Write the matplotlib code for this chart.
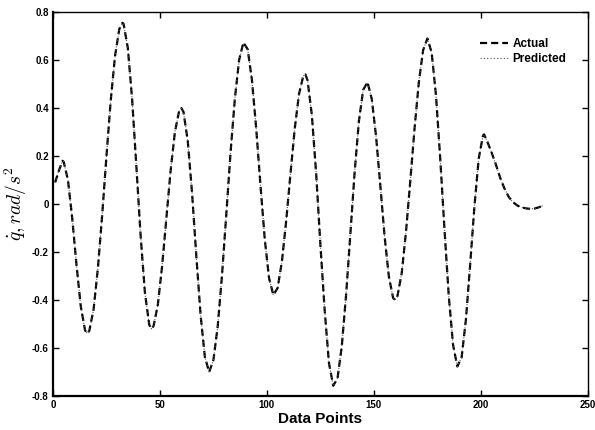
import matplotlib
matplotlib.use("Agg")
import matplotlib.pyplot as plt

plt.rcParams['font.family'] = ['Liberation Sans', 'DejaVu Sans']
plt.rcParams['mathtext.fontset'] = 'cm'

x_points = [
    1, 3, 4.5, 5, 7, 9, 11, 13, 15, 16,
    17, 19, 21, 23, 25, 27, 29, 31, 32.5, 33,
    35, 37, 39, 41, 43, 45, 46, 47, 49, 51,
    53, 55, 57, 59, 60, 61, 63, 65, 67, 69,
    71, 73, 75, 77, 79, 81, 83, 85, 87, 89,
    91, 93, 95, 97, 99, 101, 103, 105, 107, 109,
    111, 113, 115, 117, 118, 119, 121, 123, 125, 127,
    129, 131, 133, 135, 137, 139, 141, 143, 145, 147,
    149, 151, 153, 155, 157, 159, 160, 161, 163, 165,
    167, 169, 171, 173, 175, 177, 179, 181, 183, 185,
    187, 189, 191, 193, 195, 197, 199, 201, 201.5, 203,
    205, 207, 209, 211, 213, 215, 217, 219, 221, 223,
    225, 227, 229,
]
actual = [
    0.09, 0.145, 0.18, 0.176, 0.101, -0.059, -0.253, -0.426, -0.526, -0.54,
    -0.528, -0.438, -0.268, -0.047, 0.199, 0.431, 0.616, 0.729, 0.755, 0.751,
    0.650, 0.436, 0.155, -0.136, -0.371, -0.503, -0.52, -0.509, -0.421, -0.260,
    -0.06, 0.140, 0.300, 0.389, 0.40, 0.384, 0.263, 0.048, -0.216, -0.462,
    -0.637, -0.70, -0.650, -0.510, -0.298, -0.045, 0.214, 0.437, 0.600, 0.673,
    0.645, 0.517, 0.314, 0.077, -0.147, -0.309, -0.379, -0.350, -0.240, -0.071,
    0.125, 0.314, 0.458, 0.534, 0.54, 0.515, 0.371, 0.129, -0.170, -0.444,
    -0.663, -0.757, -0.726, -0.592, -0.379, -0.125, 0.133, 0.346, 0.476, 0.508,
    0.438, 0.283, 0.077, -0.135, -0.303, -0.392, -0.40, -0.384, -0.288, -0.116,
    0.095, 0.315, 0.507, 0.641, 0.69, 0.631, 0.454, 0.190, -0.107, -0.384,
    -0.587, -0.677, -0.639, -0.482, -0.251, -0.008, 0.190, 0.286, 0.29, 0.26,
    0.215, 0.165, 0.11, 0.065, 0.03, 0.008, -0.006, -0.014, -0.018, -0.02,
    -0.019, -0.014, -0.007,
]
predicted = list(actual)

xticks = [0, 50, 100, 150, 200, 250]
yticks = [-0.8, -0.6, -0.4, -0.2, 0, 0.2, 0.4, 0.6, 0.8]
yticklabels = ['-0.8', '-0.6', '-0.4', '-0.2', '0', '0.2', '0.4', '0.6', '0.8']

fig = plt.figure(figsize=(5.95, 4.30), dpi=100)
ax = fig.add_axes([0.089, 0.079, 0.899, 0.893])

ax.plot(x_points, actual, color='black', linewidth=1.6, linestyle=(0, (3.2, 1.8)), label='Actual')
ax.plot(x_points, predicted, color='#555555', linewidth=0.8, linestyle=(0, (1, 2)), label='Predicted')

ax.set_xlim(0, 250)
ax.set_ylim(-0.8, 0.8)
ax.set_xticks(xticks)
ax.set_xticklabels([str(t) for t in xticks], fontsize=7, fontweight='bold')
ax.set_yticks(yticks)
ax.set_yticklabels(yticklabels, fontsize=7, fontweight='bold')
ax.tick_params(direction='in', top=True, right=True, length=4, width=1, pad=3)

for side in ['left', 'bottom']:
    ax.spines[side].set_linewidth(1.6)
for side in ['top', 'right']:
    ax.spines[side].set_linewidth(1.0)

ax.set_xlabel('Data Points', fontsize=11, fontweight='bold', labelpad=1)
ax.set_ylabel(r'$\dot{q}, rad/s^2$', fontsize=14, labelpad=2)

leg = ax.legend(loc='upper right', bbox_to_anchor=(0.98, 0.96), frameon=False,
                prop={'size': 8.5, 'weight': 'bold'}, handlelength=2.4, handletextpad=0.4,
                labelspacing=0.25)

fig.savefig('out.png', dpi=100)
